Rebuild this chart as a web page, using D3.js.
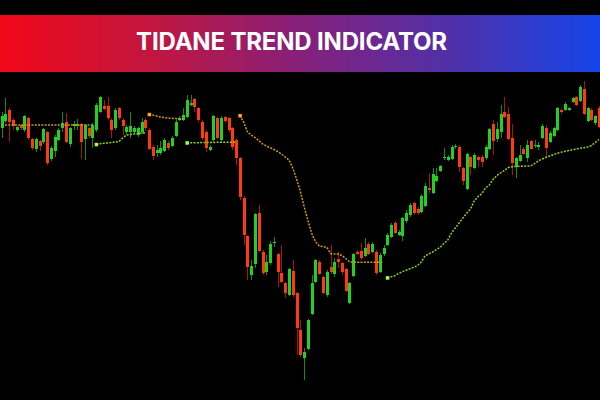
<!DOCTYPE html>
<html>
<head>
<meta charset="utf-8">
<script src="https://cdn.jsdelivr.net/npm/d3@7"></script>
<style>
html,body{margin:0;padding:0;background:#000;}
svg{display:block;}
</style>
</head>
<body>
<svg id="chart" width="600" height="400"></svg>
<script>
const title = "TIDANE TREND INDICATOR";

// OHLC prices (points)
const open = [372,379,390,380,370,375,370,382,361,351,359,358,368,341,349,360,372,378,356,374,374,376,361,372,362,370,388,394,394,380,372,392,380,368,368,368,365,368,380,370,353,347,347,349,357,354,364,380,380,383,395,401,392,378,368,350,360,382,360,383,382,372,360,342,302,264,225,236,287,248,228,237,257,246,227,217,205,229,207,170,142,151,186,218,238,223,205,233,226,241,237,231,197,224,248,249,244,256,248,248,228,246,255,263,277,265,264,279,285,297,291,288,294,312,307,319,329,342,340,341,353,353,332,311,343,332,343,343,342,351,376,361,368,388,386,362,333,339,351,342,359,354,353,362,372,358,364,370,390,390,390,398,403,399,411,379,390,377,392];
const high = [388,402,392,382,374,376,385,383,362,362,360,372,369,354,365,372,388,387,373,379,381,377,376,373,377,397,404,400,403,382,392,393,382,375,388,374,373,382,382,372,355,355,359,362,359,364,380,384,392,405,405,402,393,380,370,355,385,383,384,384,383,373,362,343,304,265,240,287,295,250,245,259,263,247,255,218,232,240,208,180,152,181,225,241,240,224,230,255,242,248,238,232,218,247,250,257,262,258,258,250,247,255,267,277,279,270,283,290,297,298,293,306,317,327,332,332,335,352,345,355,356,355,333,347,344,347,344,345,355,372,380,378,395,403,393,376,343,355,353,360,360,360,358,376,375,369,373,393,392,398,393,403,404,415,419,393,392,385,394];
const low = [362,377,358,370,368,370,368,360,350,348,349,356,335,339,343,359,368,357,353,370,370,341,340,362,352,368,387,390,380,362,370,380,365,366,362,366,363,366,369,350,340,343,345,348,350,353,363,379,379,382,394,388,378,360,348,349,358,361,359,377,368,350,335,300,255,220,220,232,248,225,225,235,253,213,217,202,204,203,145,143,120,150,185,217,225,206,203,226,223,232,225,208,196,223,245,240,243,245,247,225,227,244,254,262,266,264,259,277,283,285,285,287,293,307,306,318,328,340,339,340,351,328,315,310,325,331,333,333,340,350,345,358,362,382,360,325,322,338,345,338,350,352,350,361,343,357,363,369,386,389,389,397,394,398,385,378,379,375,372];
const close = [384,386,378,374,373,372,384,362,352,361,354,371,337,352,363,370,377,358,372,376,376,358,375,364,375,395,403,391,382,370,390,382,374,373,374,372,372,378,372,351,344,350,352,360,352,362,378,382,385,400,397,393,380,362,352,353,384,362,382,379,370,353,342,303,265,233,234,286,249,227,238,256,258,228,218,207,231,205,172,145,148,180,217,240,226,207,228,228,238,238,228,209,217,246,246,242,252,246,256,227,245,252,265,275,267,268,282,287,295,287,287,304,314,310,326,324,334,343,343,353,354,333,319,346,333,345,340,338,353,371,359,371,386,383,361,337,342,345,346,355,351,355,355,374,352,367,372,392,388,396,392,402,395,413,386,392,380,384,373];

// Trend line: bearish (above price) segments
const bearStart = [0, 39, 63];
const bearValues = [
  [375,375,375,375,375,375,375,375,375,375,375,375,375,375,375,375,375,375,375,375,375,375,375,375,375],
  [385.7,385,384,383,382.5,382,381.7,381.5,381,380.7],
  [384.5,378,368,365,362.5,359.5,356,354,352.3,350.5,348.5,346,343,340,332,321,308.5,293.5,279.5,266.7,258.5,254,253.3,252.7,246.5,246,246,244.5,241.5,238.2,237.7,237.7,237.7,237.7,237.7,237.7,237.7,237.7,237.7]
];
// Trend line: bullish (below price) segments
const bullStart = [25, 49, 102];
const bullValues = [
  [355.7,356.2,356.7,357.1,357.5,358,358.5,362,365,365.5,366,366.5,367,367.3],
  [357.3,357.3,357.3,357.3,357.5,357.5,357.5,357.5,357.7,357.7,357.7,357.7,357.7,357.7],
  [222.3,223.2,224.3,226.5,228.3,229.8,231.3,232.7,234.5,238,244.2,246,248,250.5,252.7,256.5,260,267,272,277,282,286.7,291,299,303.5,306.2,312,315,320.7,324.5,327.2,329.5,332.5,333.3,333.5,333.7,333.8,334,334.2,336.5,339.2,341,342.7,344,345.5,346.7,347.8,348.7,349.4,350.2,351,351.7,352.3,353,354.5,357.5,360.5]
];

const W = 600, H = 400;
const svg = d3.select("#chart");
svg.append("rect").attr("width", W).attr("height", H).attr("fill", "#000");

const n = close.length;
const x = d3.scaleLinear().domain([-0.45, n - 1 + 0.27]).range([0, W]);
const y = d3.scaleLinear().domain([100, 500]).range([H, 0]);

// Banner
const defs = svg.append("defs");
const grad = defs.append("linearGradient").attr("id", "bannerGrad").attr("x1", "0%").attr("x2", "100%");
grad.append("stop").attr("offset", "0%").attr("stop-color", "#f20818");
grad.append("stop").attr("offset", "25%").attr("stop-color", "#c2163f");
grad.append("stop").attr("offset", "50%").attr("stop-color", "#86207a");
grad.append("stop").attr("offset", "75%").attr("stop-color", "#5030a8");
grad.append("stop").attr("offset", "100%").attr("stop-color", "#1444ea");
svg.append("rect").attr("x", 0).attr("y", 15).attr("width", W).attr("height", 57).attr("fill", "url(#bannerGrad)");
const t = svg.append("text")
  .attr("x", 291.5).attr("y", 49.5)
  .attr("text-anchor", "middle")
  .attr("fill", "#fff")
  .style("font-family", "Inter, 'Open Sans', sans-serif")
  .style("font-weight", 700)
  .style("font-size", "24px")
  .text(title);
const tw = t.node().getComputedTextLength();
t.style("letter-spacing", ((311 - tw) / (title.length - 1)) + "px");

// Candles
const data = d3.range(n).map(i => ({i, o: open[i], h: high[i], l: low[i], c: close[i]}));
const g = svg.append("g");
g.selectAll("line.wick").data(data).join("line")
  .attr("class", "wick")
  .attr("x1", d => Math.round(x(d.i)) + 0.5).attr("x2", d => Math.round(x(d.i)) + 0.5)
  .attr("y1", d => y(d.h)).attr("y2", d => y(d.l))
  .attr("stroke", d => d.c >= d.o ? "#138a13" : "#a01c00")
  .attr("stroke-width", 1);
g.selectAll("rect.body").data(data).join("rect")
  .attr("class", "body")
  .attr("x", d => Math.round(x(d.i)) - 1)
  .attr("width", 3)
  .attr("y", d => y(Math.max(d.o, d.c)))
  .attr("height", d => Math.max(1, Math.abs(y(d.o) - y(d.c))))
  .attr("fill", d => d.c >= d.o ? "#22d022" : "#ff3a0c");

// Trend lines
function drawSegments(starts, values, lineColor, markColor) {
  starts.forEach((s, k) => {
    const pts = values[k].map((v, j) => [x(s + j), y(v)]);
    svg.append("path")
      .attr("d", d3.line()(pts))
      .attr("fill", "none")
      .attr("stroke", lineColor)
      .attr("stroke-width", 1.5)
      .attr("stroke-dasharray", "2,1.3");
    if (s > 0) {
      svg.append("rect")
        .attr("x", pts[0][0] - 1.5).attr("y", pts[0][1] - 1.5)
        .attr("width", 3.5).attr("height", 3.5)
        .attr("fill", markColor);
    }
  });
}
drawSegments(bearStart, bearValues, "#d09a14", "#ffaa10");
drawSegments(bullStart, bullValues, "#92cc1c", "#a8ff3a");
</script>
</body>
</html>
